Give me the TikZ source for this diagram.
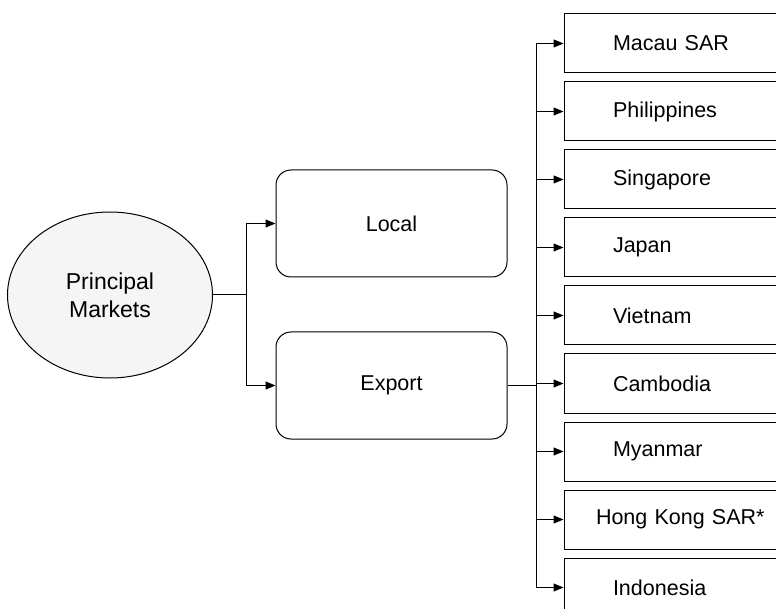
\documentclass[tikz,border=0pt]{standalone}
\usepackage{fontspec}
\setmainfont{Liberation Sans}
\usetikzlibrary{arrows.meta,positioning,shapes.geometric}

\begin{document}
\begin{tikzpicture}[
  x=1pt,y=-1pt,
  font=\fontsize{21.5}{26}\selectfont,
  line width=1pt,
  market/.style={draw,ellipse,fill=black!4,minimum width=205pt,minimum height=166pt,
    inner sep=0pt,align=center,font=\fontsize{23}{28}\selectfont},
  branch/.style={draw,rounded corners=15pt,minimum width=231pt,minimum height=107pt,align=center},
  cbox/.style={draw,minimum height=59pt,text width=200pt,inner xsep=49pt,inner ysep=0pt,align=left},
  arr/.style={-{Triangle[length=10pt,width=8pt]}}
]
\useasboundingbox (0,0) rectangle (776,609);
\clip (0,0) rectangle (776,609);

\node[market] (pm) at (110,295) {Principal\\Markets};
\node[branch] (loc) at (391.5,223.5) {Local};
\node[branch,below=54pt of loc] (exp) {Export};

\node[cbox] (mac) at (713,43.5) {Macau SAR};
\node[cbox,below=8pt of mac] (phi) {Philippines};
\node[cbox,below=8pt of phi] (sin) {Singapore};
\node[cbox,below=8pt of sin] (jap) {Japan};
\node[cbox,below=8pt of jap] (vie) {Vietnam};
\node[cbox,below=8pt of vie] (cam) {Cambodia};
\node[cbox,below=8pt of cam] (mya) {Myanmar};
\node[cbox,below=8pt of mya] (hkg) {\hspace*{-17pt}Hong Kong SAR*};
\node[cbox,below=8pt of hkg] (ind) {Indonesia};

% principal markets -> local / export
\coordinate (split) at (246,295);
\draw (pm.east) -- (split);
\draw[arr] (split) |- (loc.west);
\draw[arr] (split) |- (exp.west);

% export -> countries
\coordinate (hub) at (536,0 |- exp.east);
\draw (exp.east) -- (hub);
\foreach \c in {mac,phi,sin,jap,vie,cam,mya,hkg,ind}
  \draw[arr] (hub) |- (\c.west);
\end{tikzpicture}
\end{document}
